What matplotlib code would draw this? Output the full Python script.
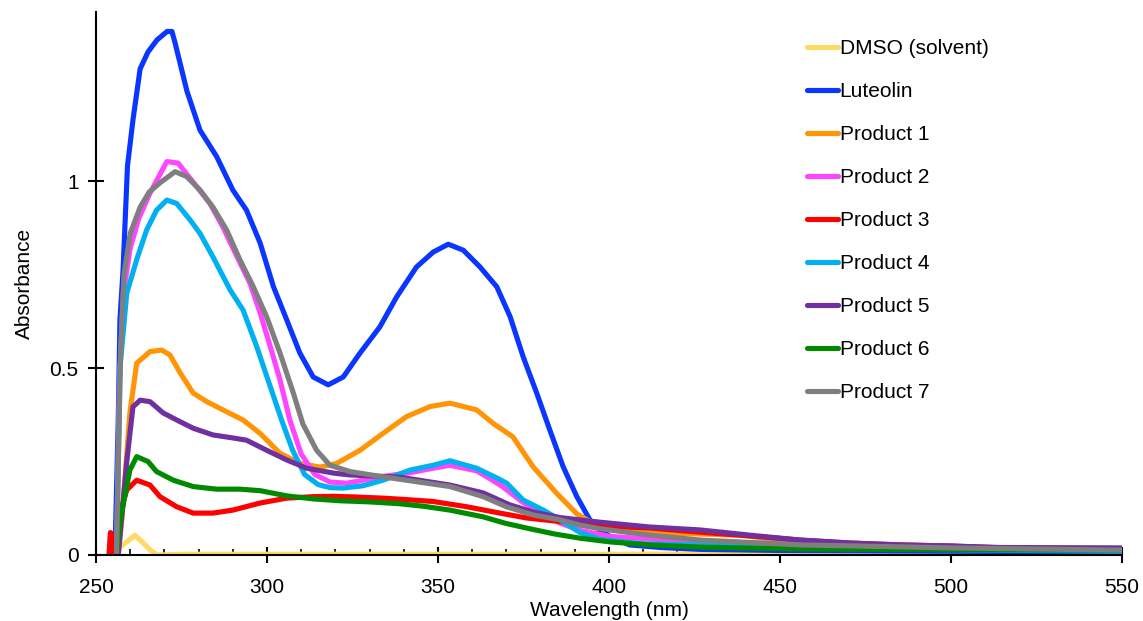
import matplotlib.pyplot as plt
from matplotlib.ticker import MultipleLocator

plt.rcParams['font.family'] = ['Liberation Sans', 'DejaVu Sans']

# Data (wavelength in nm, absorbance)
dmso_wl = [255.5, 257, 259, 261.4, 263.8, 266, 268, 275, 300, 350, 400, 450, 500, 550]
dmso_abs = [0.0, 0.022, 0.035, 0.053, 0.032, 0.012, 0.0, 0.002, 0.002, 0.002, 0.002, 0.003, 0.002, 0.002]

lut_wl = [255.5, 255.8, 256.5, 257, 257.9, 259.2, 260.8, 262.9, 265.2, 267.8, 270.8, 272.2, 273.1,
          276.6, 280.4, 285.3, 290, 294, 298, 301.9, 305.8, 309.6, 313.5, 317.9, 322.3, 327.2,
          333, 337.9, 343.7, 348.6, 353, 357.4, 362.3, 367.2, 371.1, 374.9, 378.9, 382.7, 386.6,
          390.6, 394.4, 397.4, 400.3, 406, 415, 426.6, 450, 500, 550]
lut_abs = [0.0, 0.1, 0.36, 0.63, 0.76, 1.04, 1.163, 1.30, 1.345, 1.377, 1.40, 1.40, 1.37,
           1.24, 1.136, 1.065, 0.976, 0.922, 0.834, 0.717, 0.628, 0.54, 0.476, 0.455, 0.476, 0.54,
           0.61, 0.69, 0.77, 0.81, 0.831, 0.815, 0.77, 0.717, 0.637, 0.53, 0.432, 0.334, 0.236,
           0.156, 0.094, 0.065, 0.05, 0.027, 0.02, 0.015, 0.012, 0.01, 0.008]

p1_wl = [256.5, 257.6, 259.9, 261.9, 265.8, 269.2, 271.6, 274.6, 278.4, 282.4, 288.2, 293, 298,
         303.8, 309.6, 315.5, 320.4, 327.2, 333.9, 340.8, 347.7, 353.5, 361.3, 366.1, 371.9,
         377.8, 384.7, 390.6, 395.3, 400.3, 412, 426.6, 438.3, 450, 458.8, 464.6, 500, 550]
p1_abs = [0.0, 0.1, 0.38, 0.513, 0.544, 0.548, 0.535, 0.487, 0.433, 0.41, 0.383, 0.361, 0.325,
          0.272, 0.245, 0.235, 0.245, 0.28, 0.325, 0.37, 0.397, 0.406, 0.388, 0.352, 0.316,
          0.236, 0.165, 0.11, 0.085, 0.07, 0.06, 0.056, 0.053, 0.04, 0.027, 0.019, 0.015, 0.012]

p2_wl = [256, 256.8, 258, 260, 262.5, 265.8, 270.7, 274, 278.4, 283.3, 287.1, 291.1, 295, 298,
         301, 303.8, 306.7, 310, 314, 318.5, 323.3, 328, 333.9, 341.8, 348.6, 353.5, 361.3, 365,
         369, 374.9, 380.8, 385.7, 392, 400, 420, 450, 500, 550]
p2_abs = [0.0, 0.45, 0.7, 0.82, 0.9, 0.968, 1.052, 1.048, 0.997, 0.94, 0.877, 0.80, 0.727, 0.647,
          0.556, 0.468, 0.36, 0.27, 0.215, 0.195, 0.192, 0.2, 0.21, 0.22, 0.232, 0.24, 0.225, 0.205,
          0.182, 0.14, 0.11, 0.085, 0.065, 0.05, 0.038, 0.03, 0.018, 0.012]

p3_wl = [253.8, 254.2, 254.8, 255.3, 255.8, 256.3, 257, 259, 261.9, 265.8, 268.7, 273.6, 278.4,
         284.2, 290, 298, 305.8, 313.5, 319.4, 326, 333.9, 341, 348.6, 358.4, 368.1, 375.9,
         383, 390, 397.4, 412, 426.6, 441.2, 455.8, 470.5, 485, 500, 514.6, 529.2, 550]
p3_abs = [0.0, 0.06, 0.055, 0.0, 0.0, 0.05, 0.112, 0.174, 0.2, 0.187, 0.156, 0.129, 0.112,
          0.112, 0.12, 0.139, 0.152, 0.156, 0.157, 0.155, 0.152, 0.148, 0.143, 0.129, 0.112, 0.099,
          0.092, 0.085, 0.078, 0.072, 0.061, 0.051, 0.04, 0.032, 0.027, 0.024, 0.019, 0.016, 0.016]

p4_wl = [256, 257, 259, 261.9, 264.8, 267.7, 270.7, 273.6, 277.5, 280.4, 284.2, 289.2, 293, 297,
         301, 304.3, 307.5, 311, 315, 318.5, 322.3, 328, 333.9, 341.8, 348.6, 353.5, 361.3,
         367.2, 370.1, 374.9, 380.8, 385.7, 391.5, 397.4, 410, 450, 500, 550]
p4_abs = [0.0, 0.5, 0.7, 0.79, 0.869, 0.922, 0.949, 0.94, 0.896, 0.86, 0.797, 0.709, 0.655, 0.557,
          0.449, 0.36, 0.28, 0.215, 0.188, 0.18, 0.179, 0.185, 0.2, 0.227, 0.24, 0.252, 0.232,
          0.206, 0.192, 0.147, 0.12, 0.094, 0.06, 0.042, 0.03, 0.022, 0.014, 0.01]

p5_wl = [256.5, 257.5, 259, 260.8, 262.9, 265.8, 269.6, 273.6, 278.4, 284.2, 290, 294, 299.9,
         305.8, 311.6, 319.4, 324.3, 338.9, 353.5, 363.2, 371, 377.8, 385.7, 397, 411.7, 426.6,
         441.2, 455.8, 470.5, 485, 500, 514.6, 550]
p5_abs = [0.0, 0.1, 0.25, 0.396, 0.414, 0.41, 0.38, 0.361, 0.339, 0.321, 0.313, 0.307, 0.28,
          0.254, 0.232, 0.219, 0.214, 0.208, 0.187, 0.166, 0.134, 0.115, 0.1, 0.088, 0.075, 0.067,
          0.053, 0.04, 0.032, 0.027, 0.024, 0.02, 0.019]

p6_wl = [256, 257, 259.9, 261.9, 265.2, 267.7, 272.6, 278.4, 285.3, 292.1, 298, 305.8, 313.5,
         321.3, 330, 338.9, 346, 353.5, 363.2, 369.6, 376.9, 384.2, 391.5, 400.3, 412, 426.6,
         455.8, 500, 550]
p6_abs = [0.0, 0.09, 0.227, 0.263, 0.25, 0.223, 0.2, 0.183, 0.176, 0.176, 0.172, 0.158, 0.15,
          0.145, 0.142, 0.137, 0.13, 0.12, 0.102, 0.085, 0.07, 0.056, 0.045, 0.035, 0.027, 0.021,
          0.016, 0.014, 0.013]

p7_wl = [256, 257.2, 258.2, 260, 262.9, 265.5, 268.7, 273.1, 276.5, 280.4, 284.2, 288.2, 292.1,
         296, 299.9, 303.8, 307.7, 310.5, 314.5, 318.4, 324.3, 333.9, 343.7, 353.5, 363.2, 370,
         377.8, 385.7, 391.5, 397.4, 412, 426.6, 455.8, 500, 550]
p7_abs = [0.0, 0.55, 0.75, 0.86, 0.93, 0.97, 0.995, 1.025, 1.012, 0.976, 0.93, 0.869, 0.789,
          0.717, 0.637, 0.54, 0.433, 0.35, 0.28, 0.24, 0.223, 0.209, 0.196, 0.183, 0.156, 0.129,
          0.107, 0.094, 0.08, 0.07, 0.053, 0.04, 0.027, 0.019, 0.013]

labels = ['DMSO (solvent)', 'Luteolin', 'Product 1', 'Product 2', 'Product 3',
          'Product 4', 'Product 5', 'Product 6', 'Product 7']
colors = ['#FFD966', '#0A36FF', '#FF9405', '#FF45FF', '#FF0000',
          '#00B0F0', '#7030A0', '#008A00', '#7F7F7F']
series = [(dmso_wl, dmso_abs), (lut_wl, lut_abs), (p1_wl, p1_abs), (p2_wl, p2_abs),
          (p3_wl, p3_abs), (p4_wl, p4_abs), (p5_wl, p5_abs), (p6_wl, p6_abs), (p7_wl, p7_abs)]

fig = plt.figure(figsize=(11.43, 6.21), dpi=100)
ax = fig.add_axes([0.084, 0.1063, 0.8976, 0.8744])

for (wl, ab), lab, col in zip(series, labels, colors):
    ax.plot(wl, ab, color=col, lw=3.7, label=lab, solid_capstyle='round', solid_joinstyle='round')

ax.set_xlim(250, 550)
ax.set_ylim(0, 1.452)
ax.xaxis.set_major_locator(MultipleLocator(50))
ax.xaxis.set_minor_locator(MultipleLocator(10))
ax.set_yticks([0, 0.5, 1])
ax.set_yticklabels(['0', '0.5', '1'])

ax.spines['top'].set_visible(False)
ax.spines['right'].set_visible(False)
ax.spines['left'].set_linewidth(1.5)
ax.spines['bottom'].set_linewidth(1.5)
ax.tick_params(which='major', direction='inout', length=11, width=1.5, labelsize=15, pad=7)
ax.tick_params(axis='x', which='major', pad=11)
ax.tick_params(which='minor', direction='in', length=4, width=1.2)

ax.set_xlabel('Wavelength (nm)', fontsize=15, labelpad=3)
ax.set_ylabel('Absorbance', fontsize=15, labelpad=11)

leg = ax.legend(loc='upper left', bbox_to_anchor=(0.690, 0.967), bbox_transform=fig.transFigure,
                frameon=False, fontsize=15, handlelength=1.45, handletextpad=0.1,
                labelspacing=1.15, borderpad=0.4)
for h in leg.get_lines():
    h.set_linewidth(3.7)

fig.savefig('out.png', dpi=100)
